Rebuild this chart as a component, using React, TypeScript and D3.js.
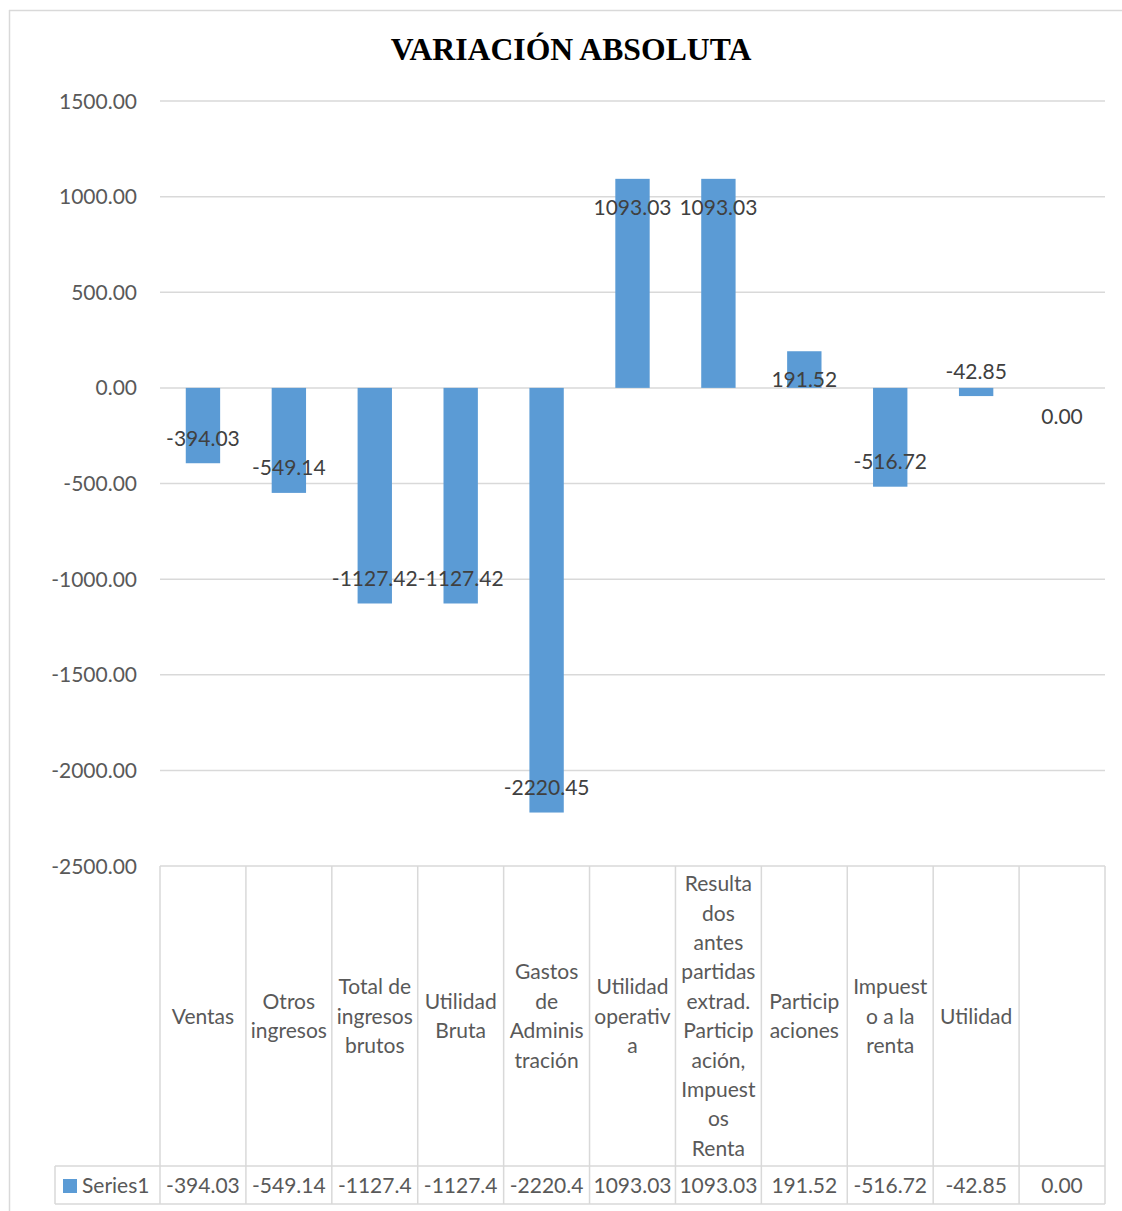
import React from "react";
import * as d3 from "d3";

const categories: string[][] = [
  ["Ventas"],
  ["Otros", "ingresos"],
  ["Total de", "ingresos", "brutos"],
  ["Utilidad", "Bruta"],
  ["Gastos", "de", "Adminis", "tración"],
  ["Utilidad", "operativ", "a"],
  ["Resulta", "dos", "antes", "partidas", "extrad.", "Particip", "ación,", "Impuest", "os", "Renta"],
  ["Particip", "aciones"],
  ["Impuest", "o a la", "renta"],
  ["Utilidad"],
  [],
];
const values = [-394.03, -549.14, -1127.42, -1127.42, -2220.45, 1093.03, 1093.03, 191.52, -516.72, -42.85, 0];
const tableLabels = ["-394.03", "-549.14", "-1127.4", "-1127.4", "-2220.4", "1093.03", "1093.03", "191.52", "-516.72", "-42.85", "0.00"];
const yTicks = [1500, 1000, 500, 0, -500, -1000, -1500, -2000, -2500];
const seriesName = "Series1";
const title = "VARIACIÓN ABSOLUTA";

const W = 1122;
const H = 1211;
const left = 160;
const right = 1105;
const top = 101;
const bottom = 866;
const tableCatBottom = 1166;
const tableBottom = 1204;
const legendLeft = 55;
const font = "Lato, 'Open Sans', sans-serif";
const grid = "#d9d9d9";

const locale = d3.formatLocale({
  decimal: ".",
  thousands: "",
  grouping: [3],
  currency: ["", ""],
  minus: "-",
});
const fmt = locale.format(".2f");

export default function App() {
  const idx = values.map((_, i) => String(i));
  const x = d3.scaleBand().domain(idx).range([left, right]).paddingInner(0.6).paddingOuter(0.3);
  const col = d3.scaleBand().domain(idx).range([left, right]).padding(0);
  const y = d3.scaleLinear().domain([-2500, 1500]).range([bottom, top]);
  const lineH = 29.4;
  const catMid = (bottom + tableCatBottom) / 2;
  const rowMid = (tableCatBottom + tableBottom) / 2;

  return (
    <svg
      width={W}
      height={H}
      style={{ position: "absolute", left: 0, top: 0, background: "#fff" }}
    >
      <rect x={0} y={0} width={W} height={H} fill="#fff" />
      <line x1={9.5} y1={10} x2={9.5} y2={H} stroke={grid} strokeWidth={1.5} />
      <line x1={9} y1={10.5} x2={W} y2={10.5} stroke={grid} strokeWidth={1.5} />

      <text
        x={571}
        y={60}
        textAnchor="middle"
        fontFamily="'Liberation Serif', 'Times New Roman', serif"
        fontWeight="bold"
        fontSize={31.7}
        fill="#000"
      >
        {title}
      </text>

      {yTicks.map((t) => (
        <g key={t}>
          <line x1={left} x2={right} y1={y(t)} y2={y(t)} stroke={grid} strokeWidth={1.5} />
          <text
            x={137}
            y={y(t) - 1}
            dominantBaseline="central"
            textAnchor="end"
            fontFamily={font}
            fontSize={21}
            fill="#595959"
          >
            {fmt(t)}
          </text>
        </g>
      ))}

      {values.map((v, i) => (
        <rect
          key={i}
          x={x(String(i))}
          width={x.bandwidth()}
          y={Math.min(y(v), y(0))}
          height={Math.abs(y(v) - y(0))}
          fill="#5b9bd5"
        />
      ))}

      {values.map((v, i) => (
        <text
          key={i}
          x={(x(String(i)) as number) + x.bandwidth() / 2}
          y={v >= 0 ? y(v) + 27.5 : y(v) - 26}
          dominantBaseline="central"
          textAnchor="middle"
          fontFamily={font}
          fontSize={21}
          fill="#404040"
        >
          {fmt(v)}
        </text>
      ))}

      {idx.map((k) => (
        <line
          key={"v" + k}
          x1={col(k)}
          x2={col(k)}
          y1={bottom}
          y2={tableBottom}
          stroke={grid}
          strokeWidth={1.5}
        />
      ))}
      <line x1={right} x2={right} y1={bottom} y2={tableBottom} stroke={grid} strokeWidth={1.5} />
      <line x1={legendLeft} x2={legendLeft} y1={tableCatBottom} y2={tableBottom} stroke={grid} strokeWidth={1.5} />
      <line x1={legendLeft} x2={right} y1={tableCatBottom} y2={tableCatBottom} stroke={grid} strokeWidth={1.5} />
      <line x1={legendLeft} x2={right} y1={tableBottom} y2={tableBottom} stroke={grid} strokeWidth={1.5} />

      {categories.map((lines, i) => {
        const cx = (col(String(i)) as number) + col.bandwidth() / 2;
        const start = catMid - ((lines.length - 1) * lineH) / 2 - 1;
        return (
          <text
            key={"c" + i}
            textAnchor="middle"
            fontFamily={font}
            fontSize={21}
            fill="#595959"
          >
            {lines.map((l, j) => (
              <tspan key={j} x={cx} y={start + j * lineH} dominantBaseline="central">
                {l}
              </tspan>
            ))}
          </text>
        );
      })}

      {tableLabels.map((t, i) => (
        <text
          key={"t" + i}
          x={(col(String(i)) as number) + col.bandwidth() / 2}
          y={rowMid - 1}
          dominantBaseline="central"
          textAnchor="middle"
          fontFamily={font}
          fontSize={21}
          fill="#595959"
        >
          {t}
        </text>
      ))}

      <rect x={63} y={1179} width={14} height={14} fill="#5b9bd5" />
      <text
        x={82}
        y={rowMid - 1}
        dominantBaseline="central"
        fontFamily={font}
        fontSize={21}
        fill="#595959"
      >
        {seriesName}
      </text>
    </svg>
  );
}
